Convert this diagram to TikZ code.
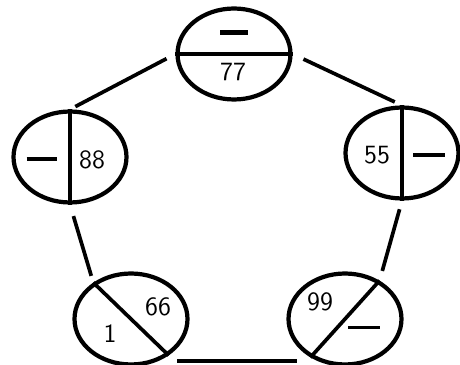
\documentclass[tikz,border=0pt]{standalone}
\usepackage{tikz}
\usetikzlibrary{shapes.geometric,positioning}
\begin{document}
\begin{tikzpicture}[x=0.02cm,y=0.02cm,
  cell/.style={ellipse,draw,line width=2.4pt,minimum width=2.26cm,minimum height=1.82cm,inner sep=0mm},
  num/.style={draw=none,inner sep=0.2mm,font=\sffamily\fontsize{15}{15}\selectfont},
  bar/.style={draw=none,inner sep=0mm},
  wire/.style={line width=2.1pt}]
\useasboundingbox (0,0) rectangle (460,365);
\node (t) [cell] at (234,311) {};
\node (l) [cell] at (70,208) {};
\node (r) [cell] at (402,212) {};
\node (bl) [cell] at (131,46) {};
\node (br) [cell] at (345,46) {};
% dividers
\draw [wire] (t.west)--(t.east);
\draw [wire] (l.north)--(l.south);
\draw [wire] (r.north)--(r.south);
\draw [wire] (bl.136)--(bl.-44);
\draw [wire] (br.48)--(br.228);
% entries
\node (tbar) [bar] at (234,332) {\rule{0.56cm}{0.1cm}};
\node (t77) [num] at (233,293) {77};
\node (lbar) [bar] at (42,206) {\rule{0.62cm}{0.09cm}};
\node (l88) [num] at (92,205) {88};
\node (r55) [num] at (377,210) {55};
\node (rbar) [bar] at (429,210) {\rule{0.64cm}{0.09cm}};
\node (bl66) [num] at (158,58) {66};
\node (bl1) [num] at (110,31) {1};
\node (br99) [num] at (320,63) {99};
\node (brbar) [bar] at (364,37) {\rule{0.64cm}{0.06cm}};
% ring
\draw [wire,shorten <=0.2cm,shorten >=0.12cm] (t.west)--(l.north);
\draw [wire,shorten <=0.24cm,shorten >=0.16cm] (t.east)--(r.north);
\draw [wire,shorten <=0.24cm,shorten >=0.14cm] (l.south)--(bl.136);
\draw [wire,shorten <=0.18cm,shorten >=0.2cm] (r.south)--(br.48);
\draw [wire] ([shift={(46,5.5)}]bl.south)--([shift={(-48,5.5)}]br.south);
\end{tikzpicture}
\end{document}
